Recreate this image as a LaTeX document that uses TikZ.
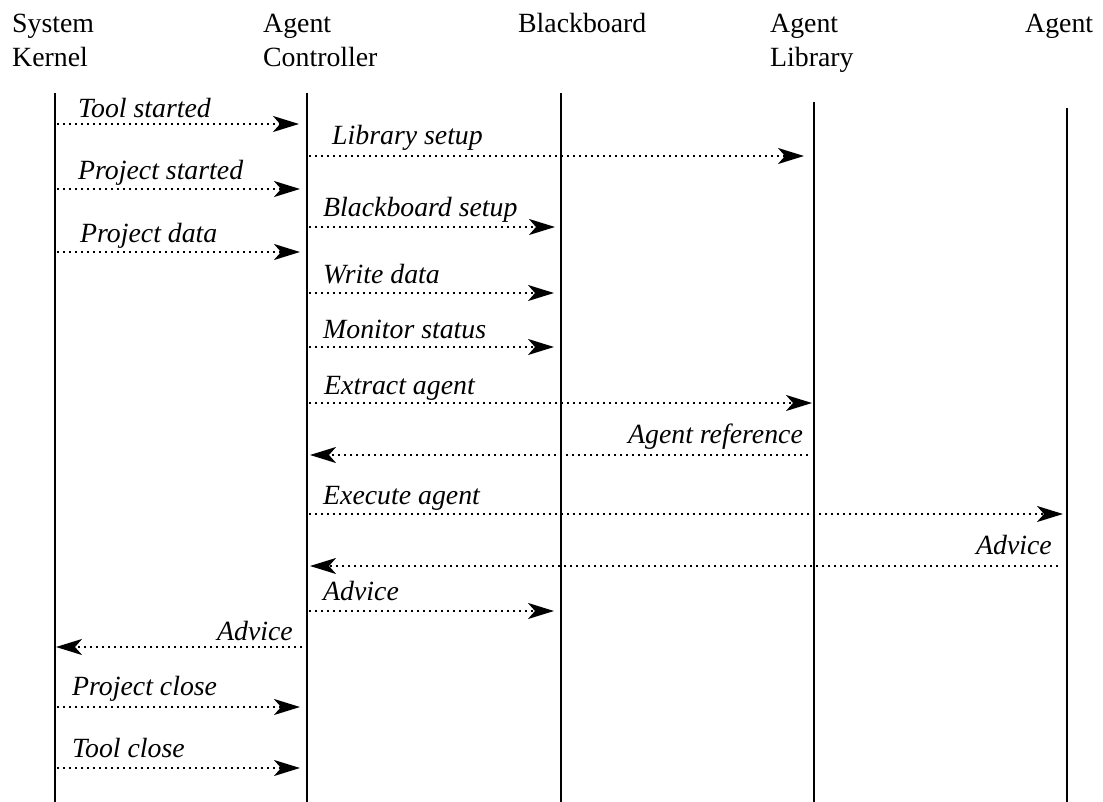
\documentclass[tikz,border=0pt]{standalone}
\usepackage{fontspec}
\setmainfont{Liberation Serif}
\usetikzlibrary{arrows.meta}
\begin{document}
\begin{tikzpicture}[x=1pt,y=-1pt,
  lifeline/.style={line width=1.8pt},
  msg/.style={line width=2.2pt, dash pattern=on 2.2pt off 3.8pt,
    -{Stealth[length=26pt,width=16pt,inset=7pt]}},
  lbl/.style={font=\fontsize{27.8}{34}\selectfont\itshape, inner sep=0pt},
  hdr/.style={font=\fontsize{27.8}{34}\selectfont, inner sep=0pt, align=left, anchor=base west}]
\useasboundingbox (0,0) rectangle (1103,802);

% headers (base anchor = baseline of the last line)
\node[hdr] (hK) at (12,67) {System\\Kernel};
\node[hdr] (hC) at (263,67) {Agent\\Controller};
\node[hdr] (hB) at (518,33) {Blackboard};
\node[hdr] (hL) at (770,67) {Agent\\Library};
\node[hdr] (hA) at (1025,33) {Agent};

% lifelines
\coordinate (Kt) at (55,93);   \coordinate (Kb) at (55,802);
\coordinate (Ct) at (307,93);  \coordinate (Cb) at (307,802);
\coordinate (Bt) at (561,93);  \coordinate (Bb) at (561,802);
\coordinate (Lt) at (814,102); \coordinate (Lb) at (814,802);
\coordinate (At) at (1067,108);\coordinate (Ab) at (1067,802);
\foreach \n in {K,C,B,L,A} \draw[lifeline] (\n t) -- (\n b);

% message end points
\foreach \i/\y in {1/124,2/156,3/189,4/227,5/252,6/293,7/347,8/403,9/455,10/514,11/566,12/611,13/647,14/707,15/768}{
  \coordinate (K\i) at (55,\y);
  \coordinate (C\i) at (307,\y);
  \coordinate (B\i) at (561,\y);
  \coordinate (L\i) at (814,\y);
  \coordinate (A\i) at (1067,\y);
}

% messages
\draw[msg, shorten <=2pt, shorten >=8pt] (K1) -- (C1);
\node[lbl, anchor=base west] (l1) at (78,118) {Tool started};

\draw[msg, shorten <=2pt, shorten >=10pt] (C2) -- (L2);
\node[lbl, anchor=base west] (l2) at (332,145) {Library setup};

\draw[msg, shorten <=2pt, shorten >=7pt] (K3) -- (C3);
\node[lbl, anchor=base west] (l3) at (78,180) {Project started};

\draw[msg, shorten <=2pt, shorten >=6pt] (C4) -- (B4);
\node[lbl, anchor=base west] (l4) at (323,217) {Blackboard setup};

\draw[msg, shorten <=2pt, shorten >=7pt] (K5) -- (C5);
\node[lbl, anchor=base west] (l5) at (80,243) {Project data};

\draw[msg, shorten <=2pt, shorten >=7pt] (C6) -- (B6);
\node[lbl, anchor=base west] (l6) at (323,284) {Write data};

\draw[msg, shorten <=2pt, shorten >=7pt] (C7) -- (B7);
\node[lbl, anchor=base west] (l7) at (323,338) {Monitor status};

\draw[msg, shorten <=2pt, shorten >=2pt] (C8) -- (L8);
\node[lbl, anchor=base west] (l8) at (324,394) {Extract agent};

\draw[msg, shorten <=6pt, shorten >=3pt] (L9) -- (C9);
\node[lbl, anchor=base east] (l9) at (803,443) {Agent reference};

\draw[msg, shorten <=2pt, shorten >=4pt] (C10) -- (A10);
\node[lbl, anchor=base west] (l10) at (323,504) {Execute agent};

\draw[msg, shorten <=9pt, shorten >=3pt] (A11) -- (C11);
\node[lbl, anchor=base east] (l11) at (1052,554) {Advice};

\draw[msg, shorten <=2pt, shorten >=7pt] (C12) -- (B12);
\node[lbl, anchor=base west] (l12) at (323,600) {Advice};

\draw[msg, shorten <=5pt, shorten >=1pt] (C13) -- (K13);
\node[lbl, anchor=base east] (l13) at (293,640) {Advice};

\draw[msg, shorten <=2pt, shorten >=7pt] (K14) -- (C14);
\node[lbl, anchor=base west] (l14) at (72,695) {Project close};

\draw[msg, shorten <=2pt, shorten >=7pt] (K15) -- (C15);
\node[lbl, anchor=base west] (l15) at (72,757) {Tool close};
\end{tikzpicture}
\end{document}
